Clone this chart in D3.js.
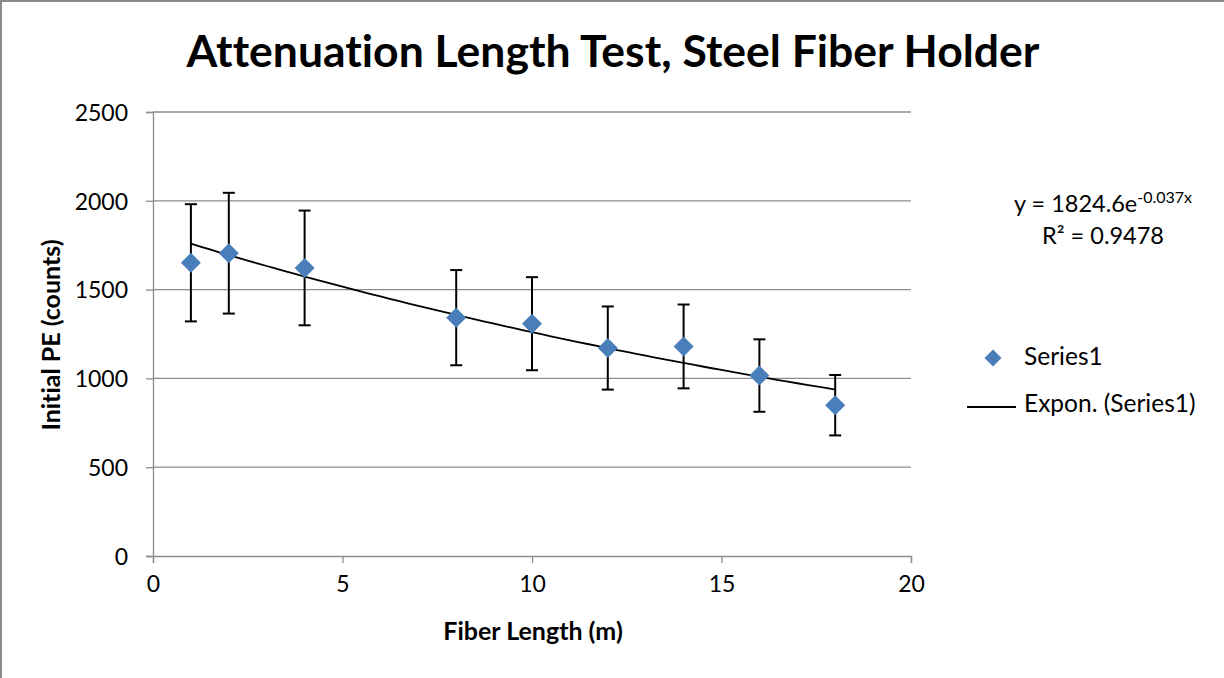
<!DOCTYPE html>
<html><head><meta charset="utf-8">
<script src="https://cdn.jsdelivr.net/npm/d3@7"></script>
<style>
html,body{margin:0;padding:0;background:#fff;}
svg{display:block;}
text{font-family:Lato,"Liberation Sans",sans-serif;font-variant-ligatures:none;}
</style></head>
<body>
<script>
const fiberLength = [1, 2, 4, 8, 10, 12, 14, 16, 18];
const initialPE   = [1651, 1705, 1622, 1342, 1308, 1171, 1180, 1016, 849];
const errorPE     = [330, 340, 323, 268, 262, 234, 236, 204, 170];
const xTicks = [0, 5, 10, 15, 20];
const yTicks = [0, 500, 1000, 1500, 2000, 2500];
const fitA = 1824.6, fitB = -0.037;
const fitX = d3.range(1, 18.01, 0.25);

const W = 1224, H = 678;
const m = {left:153, right:W-911, top:112, bottom:H-556};
const svg = d3.select("body").append("svg").attr("width", W).attr("height", H);

svg.append("path").attr("d", `M1,${H} L1,1 L${W},1`).attr("fill","none").attr("stroke","#8a8a8a").attr("stroke-width",2);

const x = d3.scaleLinear().domain([0,20]).range([m.left, W-m.right]);
const y = d3.scaleLinear().domain([0,2500]).range([H-m.bottom, m.top]);

// gridlines
svg.append("g").selectAll("line").data(yTicks.filter(v=>v>0)).join("line")
  .attr("x1", x(0)).attr("x2", x(20)).attr("y1", d=>y(d)).attr("y2", d=>y(d))
  .attr("stroke","#8c8c8c").attr("stroke-width",1.3);

// axes
const yAxis = svg.append("g").attr("transform",`translate(${x(0)},0)`)
  .call(d3.axisLeft(y).tickValues(yTicks).tickFormat(d3.format("d")).tickSize(7).tickPadding(18));
const xAxis = svg.append("g").attr("transform",`translate(0,${y(0)})`)
  .call(d3.axisBottom(x).tickValues(xTicks).tickFormat(d3.format("d")).tickSize(7).tickPadding(13));
[yAxis, xAxis].forEach(g=>{
  g.select(".domain").attr("stroke","#8c8c8c").attr("stroke-width",1.3);
  g.selectAll(".tick line").attr("stroke","#8c8c8c").attr("stroke-width",1.3);
  g.selectAll(".tick text").attr("fill","#000").style("font-size","23px").style("font-family","Lato");
});
yAxis.selectAll(".tick text").attr("dy","0.36em");

// error bars
const eb = svg.append("g").attr("stroke","#000").attr("stroke-width",2);
fiberLength.forEach((fx,i)=>{
  const cx = x(fx);
  eb.append("line").attr("x1",cx).attr("x2",cx).attr("y1",y(initialPE[i]+errorPE[i])).attr("y2",y(initialPE[i]-errorPE[i]));
  [initialPE[i]+errorPE[i], initialPE[i]-errorPE[i]].forEach(v=>{
    eb.append("line").attr("x1",cx-6).attr("x2",cx+6).attr("y1",y(v)).attr("y2",y(v));
  });
});

// trendline
svg.append("path").datum(fitX)
  .attr("d", d3.line().x(d=>x(d)).y(d=>y(fitA*Math.exp(fitB*d))))
  .attr("fill","none").attr("stroke","#000").attr("stroke-width",1.8);

// markers
svg.append("g").selectAll("path").data(fiberLength).join("path")
  .attr("d", d3.symbol().type(d3.symbolSquare).size(200))
  .attr("transform",(d,i)=>`translate(${x(d)},${y(initialPE[i])}) rotate(45)`)
  .attr("fill","#4a7ebb");

// title
svg.append("text").attr("x",613).attr("y",67).attr("text-anchor","middle")
  .style("font-size","44.5px").style("font-weight","bold").text("Attenuation Length Test, Steel Fiber Holder");

// axis titles
svg.append("text").attr("x",533).attr("y",640).attr("text-anchor","middle")
  .style("font-size","25px").style("font-weight","bold").text("Fiber Length (m)");
svg.append("text").attr("transform","translate(60,335) rotate(-90)").attr("text-anchor","middle")
  .style("font-size","25px").style("font-weight","bold").text("Initial PE (counts)");

// equation
const eq = svg.append("text").attr("x",1103).attr("y",212).attr("text-anchor","middle").style("font-size","23.5px");
eq.append("tspan").text("y = 1824.6e");
eq.append("tspan").attr("dy",-9).style("font-size","16px").text("-0.037x");
svg.append("text").attr("x",1103).attr("y",244).attr("text-anchor","middle").style("font-size","23.5px").text("R² = 0.9478");

// legend
svg.append("path").attr("d", d3.symbol().type(d3.symbolSquare).size(144))
  .attr("transform","translate(993,358) rotate(45)").attr("fill","#4a7ebb");
svg.append("text").attr("x",1024).attr("y",365).style("font-size","24.5px").text("Series1");
svg.append("line").attr("x1",967).attr("x2",1016).attr("y1",407).attr("y2",407).attr("stroke","#000").attr("stroke-width",1.8);
svg.append("text").attr("x",1024).attr("y",412).style("font-size","24.5px").text("Expon. (Series1)");
</script>
</body></html>
